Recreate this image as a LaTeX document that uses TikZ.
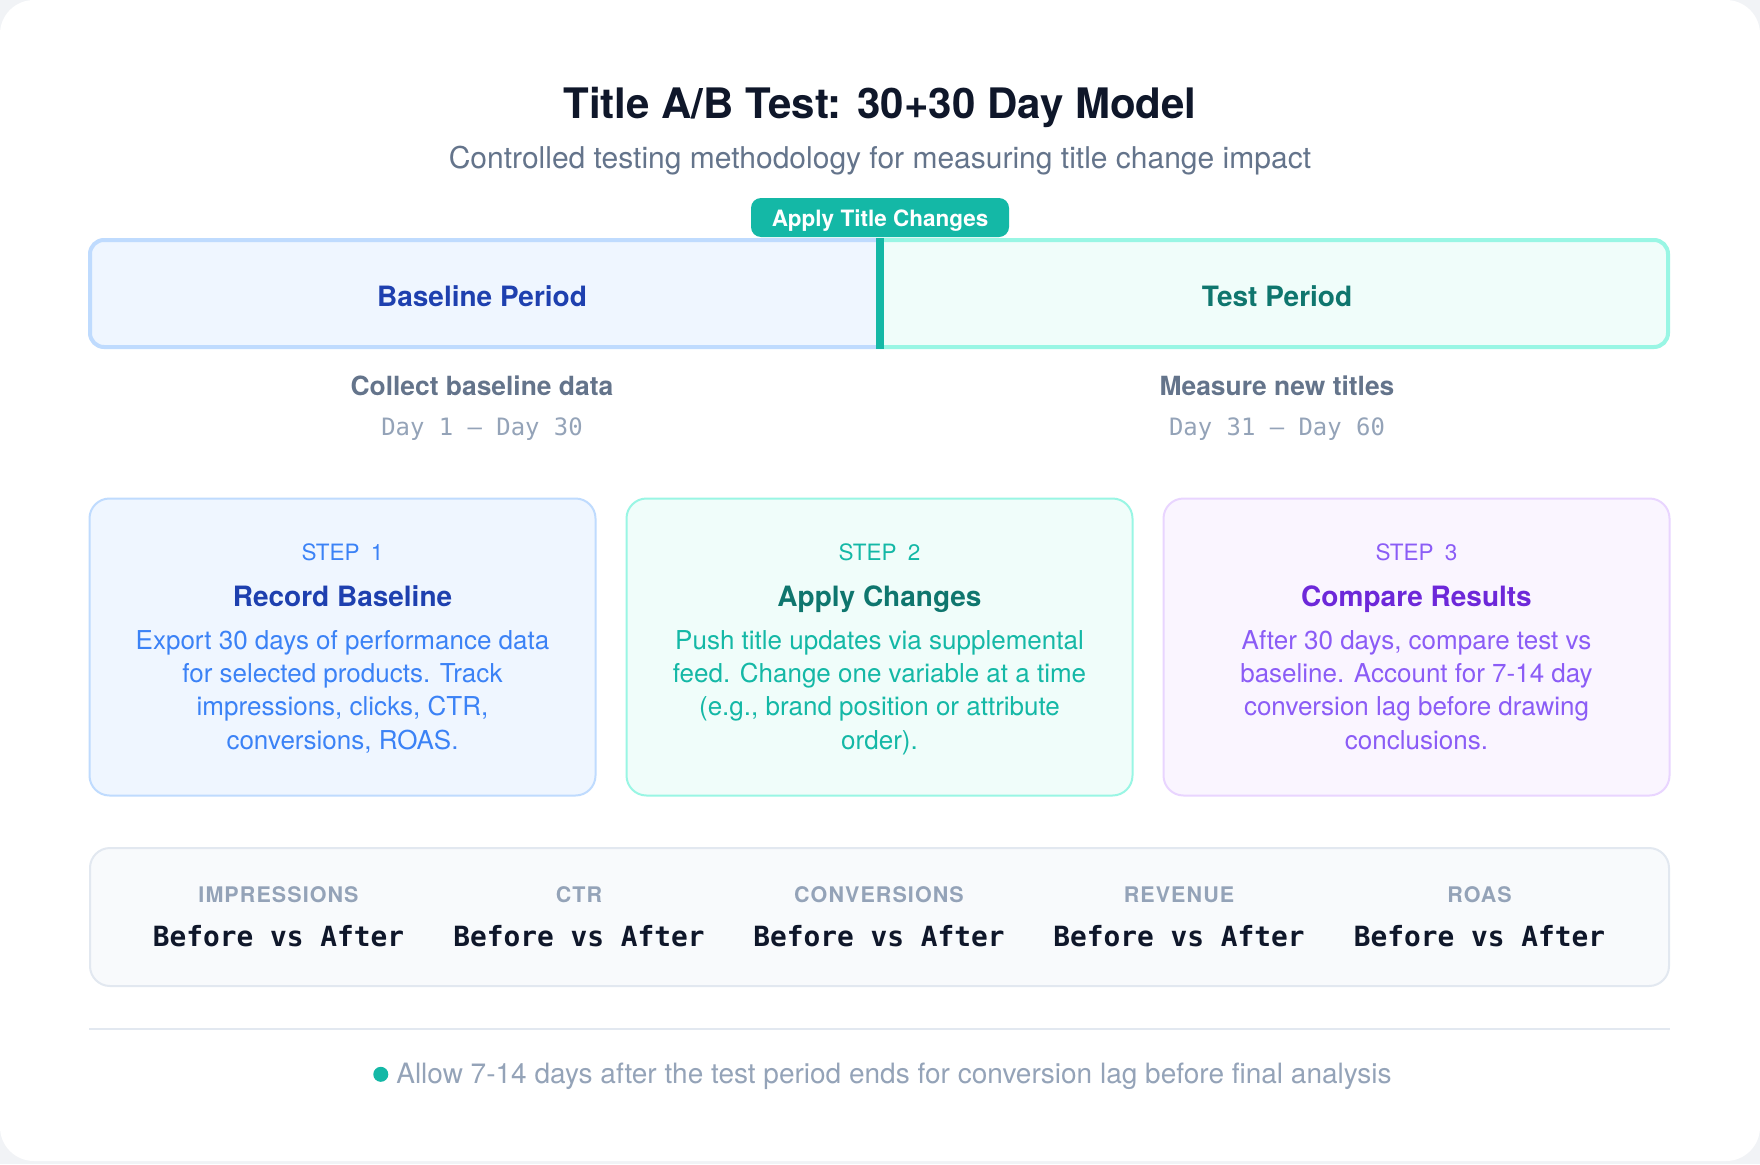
\documentclass[tikz,border=0pt]{standalone}
\usepackage{fontspec}
\setmainfont{TeX Gyre Heros}
\setmonofont{DejaVu Sans Mono}
\usepackage{tikz}
\usetikzlibrary{calc}
\usepackage{xcolor}
\definecolor{page_grey}{HTML}{F1F3F6}
\definecolor{ink_dark}{HTML}{0F172A}
\definecolor{slate_mid}{HTML}{64748B}
\definecolor{slate_light}{HTML}{94A3B8}
\definecolor{line_grey}{HTML}{E2E8F0}
\definecolor{panel_grey}{HTML}{F8FAFC}
\definecolor{teal_main}{HTML}{14B8A6}
\definecolor{teal_dark}{HTML}{0F766E}
\definecolor{teal_fill}{HTML}{F0FDFA}
\definecolor{teal_edge}{HTML}{99F6E4}
\definecolor{blue_main}{HTML}{3B82F6}
\definecolor{blue_dark}{HTML}{1E40AF}
\definecolor{blue_fill}{HTML}{EFF6FF}
\definecolor{blue_edge}{HTML}{BFDBFE}
\definecolor{violet_main}{HTML}{8B5CF6}
\definecolor{violet_dark}{HTML}{6D28D9}
\definecolor{violet_fill}{HTML}{FAF5FF}
\definecolor{violet_edge}{HTML}{E9D5FF}

\tikzset{
	period_label/.style={font=\fontsize{28}{32}\selectfont\bfseries, anchor=base},
	period_note/.style={font=\fontsize{26.4}{30}\selectfont\bfseries, text=slate_mid, anchor=base},
	day_range/.style={font=\fontsize{23.9}{28}\selectfont\ttfamily, text=slate_light, anchor=base},
	step_card/.style={rounded corners=20pt, line width=2pt, minimum width=506pt, minimum height=297pt},
	step_tag/.style={font=\fontsize{22.5}{26}\selectfont, anchor=base},
	step_title/.style={font=\fontsize{28}{32}\selectfont\bfseries, anchor=base},
	card_body/.style={font=\fontsize{26}{33.3}\selectfont, align=center, anchor=north, inner sep=0pt},
	metric_label/.style={font=\fontsize{21.5}{26}\selectfont\bfseries\addfontfeature{LetterSpace=5}, text=slate_light, anchor=base},
	metric_value/.style={font=\fontsize{27.8}{32}\selectfont\ttfamily\bfseries, text=ink_dark, anchor=base}
}

\begin{document}
\begin{tikzpicture}[x=1pt, y=-1pt]
	\fill[page_grey] (0, 0) rectangle (1760, 1164);
	\fill[white, rounded corners=34pt] (0, 0) rectangle (1760, 1161);
	\useasboundingbox (0, 0) rectangle (1760, 1164);
	\node[font=\fontsize{42}{48}\selectfont\bfseries, text=ink_dark, anchor=base] (title) at (880, 118) {Title A/B Test: 30+30 Day Model};
	\node[font=\fontsize{30}{34}\selectfont, text=slate_mid, anchor=base] (subtitle) at (880, 168) {Controlled testing methodology for measuring title change impact};
	\begin{scope}
		\clip (0, 0) rectangle (880, 400);
		\draw[blue_edge, fill=blue_fill, line width=4pt, rounded corners=14pt] (90, 240) rectangle (920, 347);
	\end{scope}
	\begin{scope}
		\clip (880, 0) rectangle (1760, 400);
		\draw[teal_edge, fill=teal_fill, line width=4pt, rounded corners=14pt] (840, 240) rectangle (1668, 347);
	\end{scope}
	\coordinate (split_top) at (880, 238);
	\coordinate (split_bottom) at (880, 349);
	\draw[teal_main, line width=8pt] (split_top) -- (split_bottom);
	\node[fill=teal_main, rounded corners=10pt, minimum width=258pt, minimum height=39pt, inner sep=0pt, text height=18.4pt, text depth=0pt, font=\fontsize{22.5}{26}\selectfont\bfseries, text=white] (apply_badge) at (880, 217.5) {Apply Title Changes};
	\node[period_label, text=blue_dark] (base_label) at (482, 306) {Baseline Period};
	\node[period_label, text=teal_dark] (test_label) at (1277, 306) {Test Period};
	\node[period_note] (base_note) at (482, 395.7) {Collect baseline data};
	\node[day_range] (base_days) at (482, 435) {Day 1 — Day 30};
	\node[period_note] (test_note) at (1277, 395.7) {Measure new titles};
	\node[day_range] (test_days) at (1277, 435) {Day 31 — Day 60};
	\node[step_card, draw=blue_edge, fill=blue_fill] (card_a) at (342.5, 647) {};
	\node[step_card, draw=teal_edge, fill=teal_fill] (card_b) at (879.5, 647) {};
	\node[step_card, draw=violet_edge, fill=violet_fill] (card_c) at (1416.5, 647) {};
	\node[step_tag, text=blue_main] (tag_a) at ($(card_a.north) + (0, 63)$) {STEP\enspace 1};
	\node[step_title, text=blue_dark] (head_a) at ($(card_a.north) + (0, 108.5)$) {Record Baseline};
	\node[card_body, text=blue_main] (body_a) at ($(card_a.north) + (0, 128.2)$) {\strut Export 30 days of performance data\\for selected products. Track\\impressions, clicks, CTR,\\conversions, ROAS.};
	\node[step_tag, text=teal_main] (tag_b) at ($(card_b.north) + (0, 63)$) {STEP\enspace 2};
	\node[step_title, text=teal_dark] (head_b) at ($(card_b.north) + (0, 108.5)$) {Apply Changes};
	\node[card_body, text=teal_main] (body_b) at ($(card_b.north) + (0, 128.2)$) {\strut Push title updates via supplemental\\feed. Change one variable at a time\\(e.g., brand position or attribute\\order).};
	\node[step_tag, text=violet_main] (tag_c) at ($(card_c.north) + (0, 63)$) {STEP\enspace 3};
	\node[step_title, text=violet_dark] (head_c) at ($(card_c.north) + (0, 108.5)$) {Compare Results};
	\node[card_body, text=violet_main] (body_c) at ($(card_c.north) + (0, 128.2)$) {\strut After 30 days, compare test vs\\baseline. Account for 7-14 day\\conversion lag before drawing\\conclusions.};
	\node[draw=line_grey, fill=panel_grey, line width=2pt, rounded corners=20pt, minimum width=1579pt, minimum height=138pt] (metric_box) at (879.5, 917) {};
	\node[metric_label] (imp_label) at (278.5, 902.3) {IMPRESSIONS};
	\node[metric_value] (imp_value) at (278.5, 946) {Before vs After};
	\node[metric_label] (ctr_label) at (579, 902.3) {CTR};
	\node[metric_value] (ctr_value) at (579, 946) {Before vs After};
	\node[metric_label] (conv_label) at (879, 902.3) {CONVERSIONS};
	\node[metric_value] (conv_value) at (879, 946) {Before vs After};
	\node[metric_label] (rev_label) at (1179, 902.3) {REVENUE};
	\node[metric_value] (rev_value) at (1179, 946) {Before vs After};
	\node[metric_label] (roas_label) at (1479.5, 902.3) {ROAS};
	\node[metric_value] (roas_value) at (1479.5, 946) {Before vs After};
	\coordinate (rule_left) at (89, 1029);
	\coordinate (rule_right) at (1670, 1029);
	\draw[line_grey, line width=2pt] (rule_left) -- (rule_right);
	\node[font=\fontsize{28}{32}\selectfont, text=slate_light, anchor=base] (foot_note) at (894, 1083.3) {Allow 7-14 days after the test period ends for conversion lag before final analysis};
	\fill[teal_main] ($(foot_note.base west) + (-12, -9)$) circle (7.5);
\end{tikzpicture}
\end{document}
